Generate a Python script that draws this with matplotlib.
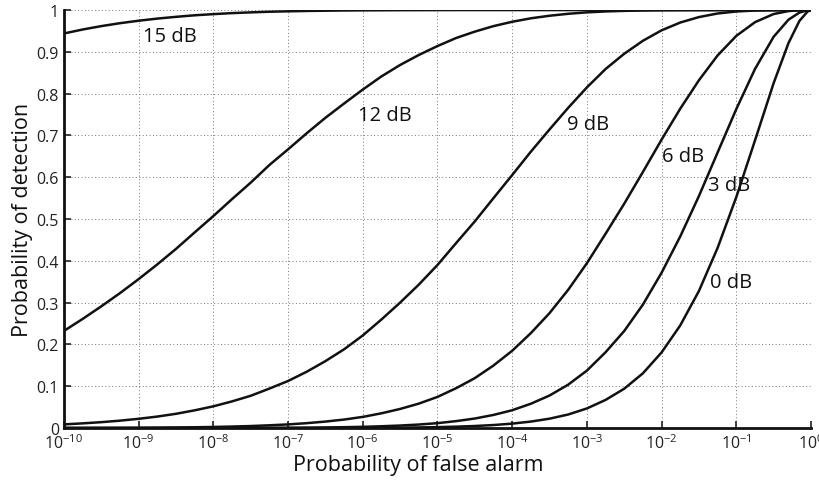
import numpy as np
import matplotlib.pyplot as plt
from matplotlib.ticker import LogLocator, NullLocator, FixedLocator

plt.rcParams['font.family'] = ['Open Sans', 'DejaVu Sans']
plt.rcParams['mathtext.fontset'] = 'custom'
plt.rcParams['mathtext.rm'] = 'Open Sans'
plt.rcParams['mathtext.it'] = 'Open Sans'

# false alarm probabilities, quarter-decade steps up to 0.1, then the upper end
pfa = [1e-10, 1.78e-10, 3.16e-10, 5.62e-10,
       1e-9, 1.78e-9, 3.16e-9, 5.62e-9,
       1e-8, 1.78e-8, 3.16e-8, 5.62e-8,
       1e-7, 1.78e-7, 3.16e-7, 5.62e-7,
       1e-6, 1.78e-6, 3.16e-6, 5.62e-6,
       1e-5, 1.78e-5, 3.16e-5, 5.62e-5,
       1e-4, 1.78e-4, 3.16e-4, 5.62e-4,
       1e-3, 1.78e-3, 3.16e-3, 5.62e-3,
       1e-2, 1.78e-2, 3.16e-2, 5.62e-2,
       1e-1, 0.178, 0.316, 0.5, 0.7, 0.9, 1.0]

pd_0db = [0.0, 0.0, 0.0, 0.0, 0.0, 0.0, 0.0, 0.0, 0.0, 0.0, 0.0,
          0.0001, 0.0001, 0.0001, 0.0002, 0.0003, 0.0004, 0.0007, 0.0010,
          0.0015, 0.0022, 0.0033, 0.0049, 0.0072, 0.0106, 0.0155, 0.0224,
          0.0324, 0.0469, 0.0673, 0.0941, 0.1309, 0.1809, 0.2457, 0.3278,
          0.4309, 0.5525,
          0.688, 0.825, 0.921, 0.974, 0.9965, 1.0]
pd_3db = [0.0, 0.0, 0.0, 0.0, 0.0, 0.0,
          0.0001, 0.0001, 0.0002, 0.0002, 0.0003, 0.0005, 0.0007, 0.0010,
          0.0014, 0.0021, 0.0029, 0.0043, 0.0060, 0.0084, 0.0117, 0.0166,
          0.0228, 0.0314, 0.0426, 0.0582, 0.0778, 0.1038, 0.1374, 0.1814,
          0.2321, 0.2953, 0.3715, 0.4586, 0.5549, 0.6591, 0.763,
          0.859, 0.936, 0.977, 0.994, 0.9995, 1.0]
pd_6db = [0.0002, 0.0003, 0.0004, 0.0005, 0.0007, 0.0010, 0.0014, 0.0019,
          0.0026, 0.0036, 0.0048, 0.0066, 0.0087, 0.0117, 0.0155, 0.0203,
          0.0267, 0.0353, 0.0457, 0.0584, 0.0745, 0.0954, 0.1194, 0.1496,
          0.1849, 0.2272, 0.2749, 0.3307, 0.3943, 0.4649, 0.5367, 0.6126,
          0.690, 0.7642, 0.832, 0.8914, 0.9382,
          0.971, 0.9905, 0.9976, 0.9996, 1.0, 1.0]
pd_9db = [0.0088, 0.0112, 0.0141, 0.0177, 0.0221, 0.0275, 0.0341, 0.0424,
          0.0520, 0.0638, 0.0772, 0.0944, 0.1126, 0.1348, 0.1601, 0.1884,
          0.2215, 0.2598, 0.3001, 0.3431, 0.3901, 0.4427, 0.4944, 0.5501,
          0.6053, 0.6613, 0.7143, 0.7661, 0.8149, 0.8590, 0.8954, 0.9265,
          0.9515, 0.9702, 0.9832, 0.9918, 0.9966,
          0.9989, 0.9998, 1.0, 1.0, 1.0, 1.0]
pd_12db = [0.2324, 0.2611, 0.2912, 0.3228, 0.3564, 0.3917, 0.4286, 0.4681,
           0.5072, 0.5478, 0.5871, 0.6293, 0.6668, 0.7054, 0.7422, 0.7764,
           0.8098, 0.8413, 0.8686, 0.8925, 0.9139, 0.9332, 0.9484, 0.9616,
           0.9720, 0.9803, 0.9864, 0.9911, 0.9945, 0.9967, 0.9981, 0.9990,
           0.9995, 0.9998, 0.9999, 1.0, 1.0,
           1.0, 1.0, 1.0, 1.0, 1.0, 1.0]
pd_15db = [0.944, 0.9535, 0.9616, 0.9686, 0.9745, 0.9796, 0.9838, 0.9875,
           0.9903, 0.9927, 0.9945, 0.9960, 0.9970, 0.9979, 0.9985, 0.9990,
           0.9993, 0.9995, 0.9997, 0.9998, 0.9999, 1.0, 1.0, 1.0,
           1.0, 1.0, 1.0, 1.0, 1.0, 1.0, 1.0, 1.0,
           1.0, 1.0, 1.0, 1.0, 1.0,
           1.0, 1.0, 1.0, 1.0, 1.0, 1.0]

curves = [pd_0db, pd_3db, pd_6db, pd_9db, pd_12db, pd_15db]
labels = ['0 dB', '3 dB', '6 dB', '9 dB', '12 dB', '15 dB']
label_x = [10**-1.35, 10**-1.38, 10**-2.0, 10**-3.27, 10**-6.06, 10**-8.94]
label_y = [0.349, 0.581, 0.651, 0.727, 0.749, 0.938]

fig = plt.figure(figsize=(8.2, 4.81), dpi=100)
ax = fig.add_axes([0.078, 0.108, 0.911, 0.869])

for pd, lab, lx, ly in zip(curves, labels, label_x, label_y):
    ax.semilogx(pfa, pd, color='#111111', linewidth=1.8)
    ax.text(lx, ly, lab, fontsize=14.5, ha='left', va='center', color='#111111')

ax.set_xlim(1e-10, 1)
ax.set_ylim(0, 1)
ax.xaxis.set_major_locator(LogLocator(base=10, numticks=12))
ax.xaxis.set_minor_locator(NullLocator())
ax.yaxis.set_major_locator(FixedLocator(np.arange(0, 1.01, 0.1)))
ax.set_yticklabels(['0', '0.1', '0.2', '0.3', '0.4', '0.5', '0.6', '0.7', '0.8', '0.9', '1'])

ax.grid(True, which='major', linestyle=(0, (1, 2.5)), color='#777777', linewidth=0.7)
ax.tick_params(direction='in', length=5, width=1.2, labelsize=11.5, colors='#222222')
ax.tick_params(axis='x', pad=4)

for side in ['top', 'right']:
    ax.spines[side].set_visible(False)
for side in ['left', 'bottom']:
    ax.spines[side].set_linewidth(2)
    ax.spines[side].set_color('#111111')

ax.set_xlabel('Probability of false alarm', fontsize=15.5, color='#111111')
ax.set_ylabel('Probability of detection', fontsize=15.5, color='#111111')
ax.xaxis.set_label_coords(0.474, -0.062)
ax.yaxis.set_label_coords(-0.042, 0.5)

fig.savefig('out.png', dpi=100)
